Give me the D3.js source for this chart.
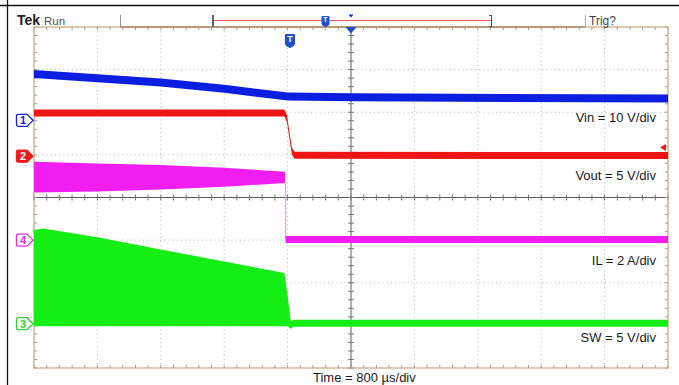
<!DOCTYPE html>
<html><head><meta charset="utf-8">
<script src="https://cdn.jsdelivr.net/npm/d3@7"></script>
<style>body{margin:0;background:#fff}svg{display:block}text{font-family:"Liberation Sans",Arial,sans-serif}</style>
</head><body>
<svg id="c" width="679" height="385"></svg>
<script>
// ---- data (time in divisions of 800 µs, level in screen divisions from centre) ----
const vinTime  = [0, 1, 2, 3, 4, 5, 10];
const vinLevel = [2.90, 2.80, 2.70, 2.55, 2.37, 2.35, 2.32];

const voutTime  = [0, 3.95, 3.99, 4.03, 4.07, 4.11, 10];
const voutLevel = [1.98, 1.98, 1.85, 1.45, 1.08, 0.99, 0.985];

const ilTime   = [0, 1, 2, 3, 3.96];
const ilPeak   = [0.84, 0.80, 0.76, 0.70, 0.605];
const ilValley = [0.12, 0.14, 0.19, 0.25, 0.34];
const ilOffTime  = [3.97, 10];
const ilOffLevel = [-0.985, -0.985];

const swTime = [0, 0.15, 1, 2, 3, 3.95, 4.0, 4.05, 4.1, 10];
const swHigh = [-0.76, -0.73, -0.93, -1.22, -1.50, -1.77, -2.30, -2.90, -2.87, -2.87];
const swLow  = [-3.02, -3.02, -3.02, -3.02, -3.02, -3.02, -3.02, -3.08, -3.03, -3.03];

const channelMarks = [
  {id: "1", level: 1.81, color: "#1020d8", fill: false},
  {id: "2", level: 0.97, color: "#ee1c1c", fill: true},
  {id: "4", level: -1.0, color: "#e030e0", fill: false},
  {id: "3", level: -2.96, color: "#30d030", fill: false}
];
const labels = [
  {text: "Vin = 10 V/div", level: 1.78},
  {text: "Vout = 5 V/div", level: 0.41},
  {text: "IL = 2 A/div", level: -1.58},
  {text: "SW = 5 V/div", level: -3.38}
];
const xLabel = "Time = 800 µs/div";

// ---- layout ----
const svg = d3.select("#c");
const L = 34, R = 668, T = 27, B = 368;
const x = d3.scaleLinear().domain([0, 10]).range([L, R]);
const y = d3.scaleLinear().domain([-4, 4]).range([B, T]);

// outer frame
svg.append("line").attr("x1",0).attr("x2",679).attr("y1",5.5).attr("y2",5.5).attr("stroke","#111").attr("stroke-width",1.3);
svg.append("line").attr("x1",7.5).attr("x2",7.5).attr("y1",0).attr("y2",385).attr("stroke","#111").attr("stroke-width",1.3);

const g = svg.append("g");
// grid dotted lines
const minorX = d3.range(0, 10.001, 0.2), minorY = d3.range(-4, 4.001, 0.2);
x.ticks(10).filter(d => d > 0 && d < 10 && d !== 5).forEach(d => {
  g.append("line").attr("x1",x(d)).attr("x2",x(d)).attr("y1",T).attr("y2",B)
   .attr("stroke","#b4b4b4").attr("stroke-dasharray","1,3.2");
});
y.ticks(8).filter(d => d > -4 && d < 4 && d !== 0).forEach(d => {
  g.append("line").attr("x1",L).attr("x2",R).attr("y1",y(d)).attr("y2",y(d))
   .attr("stroke","#b4b4b4").attr("stroke-dasharray","1,3.2");
});
// centre cross with ticks
g.append("line").attr("x1",L).attr("x2",R).attr("y1",y(0)).attr("y2",y(0)).attr("stroke","#5a5a5a");
g.append("line").attr("x1",x(5)).attr("x2",x(5)).attr("y1",T).attr("y2",B).attr("stroke","#5a5a5a");
minorX.forEach(d => g.append("line").attr("x1",x(d)).attr("x2",x(d)).attr("y1",y(0)-3).attr("y2",y(0)+3).attr("stroke","#777"));
minorY.forEach(d => g.append("line").attr("y1",y(d)).attr("y2",y(d)).attr("x1",x(5)-3).attr("x2",x(5)+3).attr("stroke","#777"));
// border ticks
minorX.forEach(d => {
  g.append("line").attr("x1",x(d)).attr("x2",x(d)).attr("y1",T).attr("y2",T+3).attr("stroke","#9a9a9a");
  g.append("line").attr("x1",x(d)).attr("x2",x(d)).attr("y1",B-3).attr("y2",B).attr("stroke","#9a9a9a");
});
minorY.forEach(d => {
  g.append("line").attr("y1",y(d)).attr("y2",y(d)).attr("x1",L).attr("x2",L+3).attr("stroke","#9a9a9a");
  g.append("line").attr("y1",y(d)).attr("y2",y(d)).attr("x1",R-3).attr("x2",R).attr("stroke","#9a9a9a");
});
g.append("rect").attr("x",L).attr("y",T).attr("width",R-L).attr("height",B-T)
 .attr("fill","none").attr("stroke","#c8a47c").attr("stroke-width",1.2);

// ---- traces ----
const pxPerDiv = (B - T) / 8;
function band(times, levels, halfPx, color) {
  const pts = times.map((t, i) => ({t, v: levels[i]}));
  const a = d3.area().x(d => x(d.t)).y0(d => y(d.v) + halfPx).y1(d => y(d.v) - halfPx);
  svg.append("path").attr("d", a(pts)).attr("fill", color);
}
function env(times, hi, lo, color) {
  const pts = times.map((t, i) => ({t, hi: hi[i], lo: lo[i]}));
  const a = d3.area().x(d => x(d.t)).y0(d => y(d.lo)).y1(d => y(d.hi));
  svg.append("path").attr("d", a(pts)).attr("fill", color);
}
const cBlue = "#0c1ee0", cRed = "#f01515", cMag = "#f01ef0", cGreen = "#14ee14";

band(vinTime, vinLevel, 4, cBlue);
band(voutTime, voutLevel, 3.5, cRed);
env(ilTime, ilPeak, ilValley, cMag);
svg.append("line").attr("x1", x(ilOffTime[0])).attr("x2", x(ilOffTime[0]))
  .attr("y1", y(ilValley[ilValley.length-1])).attr("y2", y(ilOffLevel[0]))
  .attr("stroke", "#f080f0").attr("stroke-width", 1);
band(ilOffTime, ilOffLevel, 3.5, cMag);
env(swTime, swHigh, swLow, cGreen);

// ---- channel markers ----
channelMarks.forEach(m => {
  const cy = y(m.level);
  const p = `M18,${cy-6} h9 l6,6 l-6,6 h-9 a1.5,1.5 0 0 1 -1.5,-1.5 v-9 a1.5,1.5 0 0 1 1.5,-1.5 z`;
  svg.append("path").attr("d", p).attr("fill", m.fill ? m.color : "#fff")
    .attr("stroke", m.color).attr("stroke-width", 1.3);
  svg.append("text").attr("x", 23).attr("y", cy + 4).attr("text-anchor","middle")
    .attr("font-size", 11).attr("font-weight", "bold")
    .attr("fill", m.fill ? "#fff" : m.color).text(m.id);
});

// ---- labels ----
labels.forEach(l => {
  svg.append("text").attr("x", 656).attr("y", y(l.level)).attr("text-anchor","end")
    .attr("font-size", 13).attr("fill", "#1a1a1a").text(l.text);
});
svg.append("text").attr("x", 313).attr("y", 381.5).attr("font-size", 13).attr("fill","#1a1a1a").text(xLabel);

// ---- header ----
svg.append("text").attr("x",17).attr("y",25).attr("font-size",14).attr("font-weight","bold").attr("fill","#222").text("Tek");
svg.append("text").attr("x",44).attr("y",25).attr("font-size",11.5).attr("fill","#555").text("Run");
svg.append("line").attr("x1",120).attr("x2",585).attr("y1",27).attr("y2",27).attr("stroke","#b08a62").attr("stroke-width",1.3);
svg.append("line").attr("x1",120.5).attr("x2",120.5).attr("y1",15).attr("y2",27).attr("stroke","#999");
svg.append("line").attr("x1",213).attr("x2",213).attr("y1",15).attr("y2",27).attr("stroke","#555").attr("stroke-width",1.8);
svg.append("line").attr("x1",214).attr("x2",491).attr("y1",20.5).attr("y2",20.5).attr("stroke","#f05a5a").attr("stroke-width",1);
svg.append("path").attr("d","M489,15.5 h2.5 v11 h-2.5").attr("fill","none").attr("stroke","#555").attr("stroke-width",1.2);
svg.append("line").attr("x1",585.5).attr("x2",585.5).attr("y1",15).attr("y2",27).attr("stroke","#aaa");
svg.append("text").attr("x",589).attr("y",25).attr("font-size",12).attr("fill","#444").text("Trig?");

// trigger markers
svg.append("path").attr("d","M348.5,14.5 h5 l-2.5,3 z").attr("fill",cBlue);
svg.append("path").attr("d",`M345.5,27 h11 l-5.5,6.5 z`).attr("fill","#1a4ad8");
function shield(cx, top, w, h) {
  svg.append("path").attr("d",`M${cx-w/2},${top+1} q0,-1 1,-1 h${w-2} q1,0 1,1 v${h*0.65} q0,${h*0.2} -${w/2},${h*0.35} q-${w/2},-${h*0.15} -${w/2},-${h*0.35} z`)
    .attr("fill","#1e50d0");
  svg.append("text").attr("x",cx).attr("y",top+h*0.62).attr("text-anchor","middle")
    .attr("font-size",h*0.7).attr("font-weight","bold").attr("fill","#fff").text("T");
}
shield(325.5, 16, 8, 10);
shield(290, 34, 10, 13);
svg.append("path").attr("d","M660,147.5 l6,-3.5 v7 z").attr("fill",cRed);
</script>
</body></html>
